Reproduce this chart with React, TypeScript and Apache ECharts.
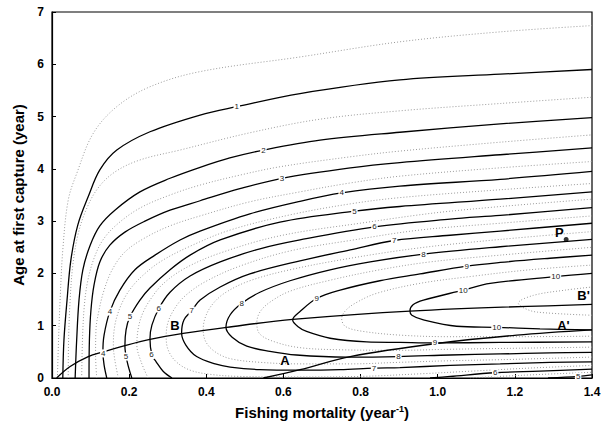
import React, { useEffect, useRef } from "react";
import * as echarts from "echarts";

// Isopleth lines [F, tc]
const c05 = [[0.014,0],[0.017,0.73],[0.021,1.49],[0.028,2.45],[0.042,3.40],[0.064,3.91],[0.107,4.68],[0.168,5.19],[0.254,5.57],[0.384,5.86],[0.643,6.14],[0.902,6.43],[1.162,6.62],[1.4,6.74]];
const c1 = [[0.028,0],[0.031,0.73],[0.039,1.49],[0.049,2.26],[0.067,2.93],[0.094,3.47],[0.124,3.98],[0.168,4.36],[0.254,4.71],[0.384,5.03],[0.479,5.19],[0.643,5.44],[0.902,5.70],[1.162,5.81],[1.4,5.90]];
const c15 = [[0.042,0],[0.043,0.73],[0.047,1.49],[0.054,2.16],[0.067,2.73],[0.088,3.21],[0.119,3.63],[0.163,3.94],[0.228,4.17],[0.332,4.36],[0.513,4.69],[0.695,4.95],[0.902,5.11],[1.162,5.25],[1.4,5.37]];
const c2 = [[0.060,0],[0.064,0.73],[0.070,1.49],[0.080,2.07],[0.099,2.54],[0.124,2.91],[0.163,3.21],[0.228,3.56],[0.306,3.82],[0.384,4.03],[0.461,4.21],[0.548,4.36],[0.695,4.55],[0.902,4.70],[1.162,4.86],[1.4,4.98]];
const c25 = [[0.077,0],[0.079,0.73],[0.084,1.40],[0.093,1.87],[0.109,2.29],[0.132,2.64],[0.169,2.94],[0.228,3.25],[0.306,3.50],[0.384,3.69],[0.487,3.88],[0.591,4.04],[0.773,4.23],[0.902,4.34],[1.162,4.51],[1.4,4.65]];
const c3 = [[0.096,0],[0.097,0.73],[0.101,1.30],[0.109,1.78],[0.124,2.22],[0.150,2.54],[0.189,2.79],[0.241,3.00],[0.306,3.21],[0.384,3.39],[0.487,3.62],[0.596,3.82],[0.774,4.02],[0.902,4.12],[1.162,4.27],[1.4,4.40]];
const c35 = [[0.116,0],[0.113,0.44],[0.114,0.92],[0.122,1.30],[0.135,1.68],[0.156,2.07],[0.189,2.41],[0.241,2.68],[0.306,2.91],[0.384,3.10],[0.513,3.37],[0.643,3.56],[0.773,3.73],[0.902,3.86],[1.162,4.02],[1.4,4.14]];
const c4 = [[0.142,0],[0.135,0.25],[0.132,0.50],[0.135,0.82],[0.150,1.27],[0.176,1.68],[0.215,2.07],[0.267,2.35],[0.332,2.64],[0.384,2.81],[0.513,3.14],[0.643,3.38],[0.751,3.54],[0.902,3.67],[1.162,3.80],[1.4,3.95]];
const c45 = [[0.172,0],[0.163,0.34],[0.159,0.63],[0.163,1.01],[0.176,1.34],[0.197,1.64],[0.228,1.91],[0.280,2.22],[0.358,2.52],[0.462,2.83],[0.617,3.12],[0.773,3.33],[0.902,3.45],[1.162,3.60],[1.4,3.72]];
const c5 = [[0.207,0],[0.195,0.31],[0.189,0.61],[0.192,0.92],[0.202,1.17],[0.228,1.49],[0.254,1.72],[0.306,2.07],[0.358,2.35],[0.436,2.64],[0.591,2.98],[0.784,3.19],[0.902,3.28],[1.162,3.42],[1.4,3.56]];
const c5b = [[1.286,0],[1.364,0.03],[1.4,0.06]];
const c55 = [[0.249,0],[0.231,0.31],[0.220,0.63],[0.223,0.92],[0.233,1.20],[0.254,1.49],[0.288,1.80],[0.345,2.10],[0.436,2.39],[0.591,2.72],[0.799,2.96],[1.032,3.19],[1.4,3.42]];
const c55b = [[1.084,0],[1.213,0.05],[1.4,0.11]];
const c6 = [[0.311,0],[0.288,0.13],[0.270,0.31],[0.259,0.44],[0.254,0.75],[0.259,1.01],[0.277,1.33],[0.306,1.64],[0.358,1.95],[0.436,2.22],[0.539,2.47],[0.643,2.64],[0.836,2.89],[1.032,3.04],[1.162,3.11],[1.4,3.26]];
const c6b = [[0.980,0],[1.032,0.03],[1.149,0.10],[1.265,0.13],[1.4,0.17]];
const c65 = [[1.4,0.24],[1.239,0.19],[1.084,0.13],[0.954,0.08],[0.799,0.03],[0.643,0.02],[0.487,0.03],[0.410,0.07],[0.358,0.15],[0.322,0.31],[0.301,0.54],[0.296,0.80],[0.301,1.07],[0.319,1.34],[0.345,1.57],[0.397,1.84],[0.487,2.14],[0.617,2.43],[0.773,2.63],[0.954,2.83],[1.162,2.96],[1.4,3.10]];
const c7 = [[1.4,0.31],[1.291,0.30],[1.162,0.27],[1.032,0.24],[0.902,0.20],[0.835,0.19],[0.747,0.16],[0.643,0.15],[0.539,0.16],[0.462,0.21],[0.423,0.27],[0.375,0.41],[0.347,0.63],[0.336,0.86],[0.342,1.11],[0.362,1.29],[0.384,1.49],[0.436,1.74],[0.513,1.99],[0.643,2.24],[0.773,2.45],[0.887,2.63],[1.032,2.73],[1.162,2.81],[1.4,2.96]];
const c75 = [[1.4,0.40],[1.162,0.35],[1.032,0.33],[0.902,0.30],[0.773,0.27],[0.643,0.27],[0.539,0.30],[0.462,0.37],[0.423,0.50],[0.399,0.69],[0.392,0.92],[0.397,1.15],[0.415,1.40],[0.449,1.63],[0.513,1.86],[0.617,2.07],[0.773,2.29],[0.954,2.49],[1.162,2.65],[1.4,2.80]];
const c8 = [[1.4,0.49],[1.291,0.48],[1.162,0.46],[1.032,0.44],[0.898,0.41],[0.764,0.40],[0.634,0.44],[0.565,0.51],[0.505,0.61],[0.467,0.78],[0.451,0.97],[0.462,1.21],[0.492,1.43],[0.539,1.64],[0.617,1.86],[0.721,2.07],[0.825,2.22],[0.963,2.37],[1.162,2.51],[1.4,2.65]];
const c85 = [[1.4,0.59],[1.213,0.57],[1.032,0.55],[0.902,0.53],[0.747,0.54],[0.643,0.58],[0.578,0.69],[0.539,0.84],[0.531,1.05],[0.539,1.26],[0.565,1.45],[0.617,1.66],[0.721,1.87],[0.850,2.07],[0.980,2.22],[1.162,2.35],[1.4,2.50]];
const c9 = [[1.4,0.69],[1.162,0.68],[0.993,0.67],[0.902,0.68],[0.816,0.69],[0.721,0.76],[0.660,0.89],[0.638,0.98],[0.624,1.11],[0.643,1.27],[0.686,1.52],[0.747,1.68],[0.850,1.86],[0.954,1.99],[1.075,2.14],[1.162,2.21],[1.291,2.29],[1.4,2.35]];
const c95 = [[1.4,0.80],[1.213,0.79],[1.032,0.79],[0.902,0.82],[0.799,0.90],[0.760,0.99],[0.751,1.14],[0.760,1.28],[0.786,1.43],[0.842,1.62],[0.954,1.81],[1.084,1.94],[1.239,2.07],[1.4,2.16]];
const c10 = [[1.4,0.92],[1.265,0.94],[1.153,0.97],[1.049,0.99],[0.963,1.11],[0.933,1.20],[0.928,1.28],[0.936,1.40],[0.963,1.49],[1.066,1.68],[1.136,1.81],[1.306,1.94],[1.4,2.00]];
const c105 = [[1.4,1.20],[1.258,1.26],[1.226,1.33],[1.209,1.43],[1.248,1.58],[1.33,1.68],[1.4,1.74]];

const solidLines = [c1, c2, c3, c4, c5, c5b, c6, c6b, c7, c8, c9, c10];
const dottedLines = [c05, c15, c25, c35, c45, c55, c55b, c65, c75, c85, c95, c105];

// Reference lines A-A' and B-B'
const lineA = [[0.548,0],[0.643,0.16],[0.773,0.41],[0.997,0.66],[1.205,0.82],[1.4,0.92]];
const lineB = [[0.012,0],[0.047,0.22],[0.094,0.41],[0.133,0.50],[0.189,0.62],[0.254,0.74],[0.340,0.855],[0.453,0.97],[0.624,1.12],[0.928,1.28],[1.4,1.41]];

// Contour value labels [F, tc, text]
const contourLabels = [
  [0.479,5.19,"1"],[0.548,4.36,"2"],[0.596,3.82,"3"],[0.751,3.54,"4"],[0.784,3.19,"5"],
  [0.836,2.89,"6"],[0.887,2.63,"7"],[0.963,2.37,"8"],[1.075,2.14,"9"],[1.066,1.68,"10"],
  [1.306,1.937,"10"],[1.153,0.969,"10"],[0.686,1.524,"9"],[0.492,1.43,"8"],[0.362,1.29,"7"],
  [0.277,1.33,"6"],[0.202,1.17,"5"],[0.150,1.27,"4"],[0.133,0.47,"4"],[0.192,0.41,"5"],
  [0.258,0.44,"6"],[0.993,0.675,"9"],[0.898,0.41,"8"],[0.835,0.185,"7"],[1.149,0.10,"6"],[1.364,0.025,"5"]
];
// Point letters [F, tc, text]
const letterLabels = [
  [0.604,0.34,"A"],[1.326,1.0,"A'"],[0.319,1.01,"B"],[1.378,1.57,"B'"],[1.315,2.78,"P"]
];
const pointP = [[1.333,2.65]];

const FONT = "'Liberation Sans', Arial, Helvetica, sans-serif";

function textSeries(list: any[], style: any, z: number) {
  return {
    type: "custom",
    data: list.map((d) => [d[0], d[1]]),
    silent: true,
    z,
    clip: false,
    renderItem: (params: any, api: any) => {
      const pt = api.coord([api.value(0), api.value(1)]);
      return {
        type: "text",
        x: pt[0],
        y: pt[1],
        style: { text: String(list[params.dataIndex][2]), align: "center", verticalAlign: "middle", ...style },
      };
    },
  };
}

export default function App() {
  const ref = useRef<HTMLDivElement>(null);
  useEffect(() => {
    const chart = echarts.init(ref.current!, null, { renderer: "svg" });
    const series: any[] = [];
    dottedLines.forEach((d) => {
      series.push({
        type: "line", data: d, showSymbol: false, smooth: 0.35, silent: true,
        lineStyle: { color: "#9a9a9a", width: 1, type: [1, 2] }, z: 1,
      });
    });
    solidLines.forEach((d) => {
      series.push({
        type: "line", data: d, showSymbol: false, smooth: 0.35, silent: true,
        lineStyle: { color: "#000", width: 1.3 }, z: 2,
      });
    });
    [lineA, lineB].forEach((d) => {
      series.push({
        type: "line", data: d, showSymbol: false, smooth: 0.35, silent: true,
        lineStyle: { color: "#000", width: 1.3 }, z: 3,
      });
    });
    series.push(textSeries(contourLabels, {
      fill: "#222", fontSize: 8, fontFamily: FONT, backgroundColor: "#fff", padding: [0, 1],
    }, 5));
    series.push(textSeries(letterLabels, {
      fill: "#000", fontSize: 13, fontWeight: "bold", fontFamily: FONT,
    }, 6));
    series.push({
      type: "scatter", data: pointP, symbolSize: 5, silent: true, z: 6,
      itemStyle: { color: "#000" },
    });

    chart.setOption({
      animation: false,
      backgroundColor: "#fff",
      grid: { left: 52, right: 18, top: 12, bottom: 55, show: true, borderColor: "#000", borderWidth: 1.2, containLabel: false },
      xAxis: {
        type: "value", min: 0, max: 1.4, interval: 0.2,
        name: "Fishing mortality (year{sup|-1})", nameLocation: "middle", nameGap: 26,
        nameTextStyle: {
          fontSize: 15, fontWeight: "bold", color: "#000", fontFamily: FONT,
          rich: { sup: { fontSize: 9, fontWeight: "bold", verticalAlign: "top", padding: [0, 0, 8, 0], color: "#000", fontFamily: FONT } },
        },
        axisLine: { show: true, lineStyle: { color: "#000", width: 1.2 } },
        axisTick: { show: true, inside: true, length: 4, lineStyle: { color: "#000" } },
        axisLabel: { formatter: (v: number) => v.toFixed(1), fontSize: 12, fontWeight: "bold", color: "#000", fontFamily: FONT, margin: 8 },
        splitLine: { show: false },
      },
      yAxis: {
        type: "value", min: 0, max: 7, interval: 1,
        name: "Age at first capture (year)", nameLocation: "middle", nameGap: 24,
        nameTextStyle: { fontSize: 15, fontWeight: "bold", color: "#000", fontFamily: FONT },
        axisLine: { show: true, lineStyle: { color: "#000", width: 1.2 } },
        axisTick: { show: true, inside: true, length: 4, lineStyle: { color: "#000" } },
        axisLabel: { fontSize: 12, fontWeight: "bold", color: "#000", fontFamily: FONT, margin: 8 },
        splitLine: { show: false },
      },
      series,
    });
    return () => chart.dispose();
  }, []);
  return <div ref={ref} style={{ position: "fixed", left: 0, top: 0, width: 610, height: 433 }} />;
}
